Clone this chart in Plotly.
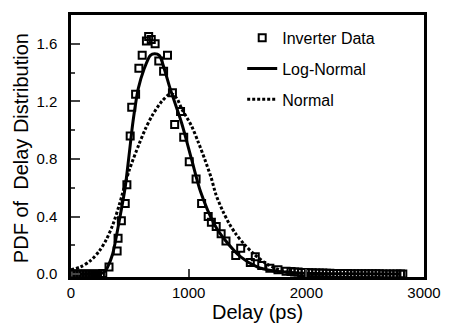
import plotly.graph_objects as go

# ---- data ----
# Inverter data (histogram points), delay in ps, PDF value
data_x = [0, 25, 50, 75, 100, 125, 150, 175, 200, 225, 250, 270,
          323, 392, 400, 428, 461, 475, 503, 516, 549, 577, 605, 641, 660, 682,
          715, 746, 787, 820, 862, 881, 931, 958, 1005, 1063, 1110, 1166, 1193,
          1234, 1276, 1317, 1400, 1442, 1524, 1566, 1621, 1690, 1759, 1828,
          1870, 1900, 1930, 1960, 1990, 2020, 2050, 2080, 2110, 2140, 2170, 2200,
          2230, 2260, 2290, 2320, 2350, 2380, 2410, 2440, 2470, 2500, 2530, 2560,
          2590, 2620, 2650, 2680, 2710, 2740, 2770, 2800, 2820]
data_y = [0.0, 0.0, 0.0, 0.0, 0.0, 0.0, 0.0, 0.0, 0.0, 0.0, 0.0, 0.005,
          0.05, 0.16, 0.25, 0.37, 0.49, 0.62, 0.96, 1.16, 1.25, 1.43, 1.52, 1.62, 1.65, 1.63,
          1.60, 1.48, 1.41, 1.52, 1.26, 1.04, 1.13, 0.95, 0.78, 0.66, 0.49, 0.40, 0.36,
          0.33, 0.28, 0.23, 0.13, 0.18, 0.08, 0.12, 0.06, 0.04, 0.03, 0.02,
          0.018, 0.015, 0.014, 0.012, 0.011, 0.01, 0.009, 0.008, 0.008, 0.007, 0.006, 0.006,
          0.005, 0.005, 0.004, 0.004, 0.004, 0.003, 0.003, 0.003, 0.003, 0.002, 0.002, 0.002,
          0.002, 0.002, 0.001, 0.001, 0.001, 0.001, 0.001, 0.001, 0.001]

# Log-Normal fit curve
logn_x = [0, 150, 250, 290, 312, 354, 410, 460, 494, 527, 572, 619, 675, 711,
          750, 795, 842, 940, 1024, 1102, 1219, 1316, 1442, 1582, 1700, 1850,
          2000, 2300, 2800]
logn_y = [0.0, 0.0, 0.003, 0.02, 0.05, 0.14, 0.37, 0.60, 0.83, 1.06, 1.29, 1.42, 1.52, 1.53,
          1.52, 1.42, 1.29, 1.05, 0.80, 0.57, 0.345, 0.23, 0.12, 0.05, 0.025, 0.012,
          0.006, 0.002, 0.0]

# Normal fit curve
norm_x = [0, 80, 160, 240, 300, 354, 410, 494, 577, 633, 689, 772, 850, 900,
          940, 1024, 1080, 1136, 1191, 1233, 1289, 1345, 1400, 1470, 1554, 1665,
          1805, 1950, 2200]
norm_y = [0.03, 0.05, 0.09, 0.16, 0.24, 0.34, 0.48, 0.72, 0.90, 1.01, 1.10, 1.20, 1.255, 1.22,
          1.15, 1.03, 0.92, 0.80, 0.67, 0.55, 0.44, 0.35, 0.28, 0.21, 0.14, 0.07,
          0.02, 0.005, 0.0]

x_ticks = [0, 1000, 2000, 3000]
y_ticks = [0.0, 0.4, 0.8, 1.2, 1.6]
y_tick_text = ["0.0", "0.4", "0.8", "1.2", "1.6"]

FONT = "Liberation Sans, Arial, sans-serif"

fig = go.Figure()
fig.add_trace(go.Scatter(
    x=data_x, y=data_y, mode="markers", name="Inverter Data", legendgroup="a",
    marker=dict(symbol="square-open", size=7, color="black", line=dict(width=2, color="black")),
))
fig.add_trace(go.Scatter(
    x=logn_x, y=logn_y, mode="lines", name="Log-Normal", legendgroup="b",
    line=dict(color="black", width=3, shape="spline", smoothing=0.8),
))
fig.add_trace(go.Scatter(
    x=norm_x, y=norm_y, mode="lines", name="Normal", legendgroup="c",
    line=dict(color="black", width=3, dash="3px,2px", shape="spline", smoothing=0.8),
))

fig.update_layout(
    width=453, height=327,
    margin=dict(l=71, r=19, t=12, b=50),
    paper_bgcolor="white", plot_bgcolor="white",
    font=dict(family=FONT, color="black", size=15),
    showlegend=True,
    legend=dict(x=0.485, y=0.978, xanchor="left", yanchor="top",
                bgcolor="rgba(0,0,0,0)", font=dict(size=16, family=FONT),
                tracegroupgap=7, itemwidth=30),
    xaxis=dict(range=[0, 3000], tickvals=x_ticks, ticks="inside", ticklen=8, tickwidth=2,
               showline=True, linewidth=2.5, linecolor="black", mirror=True,
               showgrid=False, zeroline=False, tickfont=dict(size=15)),
    yaxis=dict(range=[-0.02, 1.8], tickvals=y_ticks, ticktext=y_tick_text,
               ticks="inside", ticklen=9, tickwidth=2,
               minor=dict(dtick=0.2, tick0=0, ticks="inside", ticklen=4, tickwidth=1.5),
               showline=True, linewidth=2.5, linecolor="black", mirror=True,
               showgrid=False, zeroline=False, tickfont=dict(size=15),
               ticklabelstandoff=8),
    annotations=[
        dict(text="Delay (ps)", xref="paper", yref="paper", x=0.529, y=-0.132,
             xanchor="center", yanchor="middle", showarrow=False,
             font=dict(size=20, family=FONT)),
        dict(text="PDF of\u00a0 Delay Distribution", xref="paper", yref="paper",
             x=-0.143, y=0.49, xanchor="center", yanchor="middle", textangle=-90,
             showarrow=False, font=dict(size=20, family=FONT)),
    ],
)

fig.write_html("out.html")
